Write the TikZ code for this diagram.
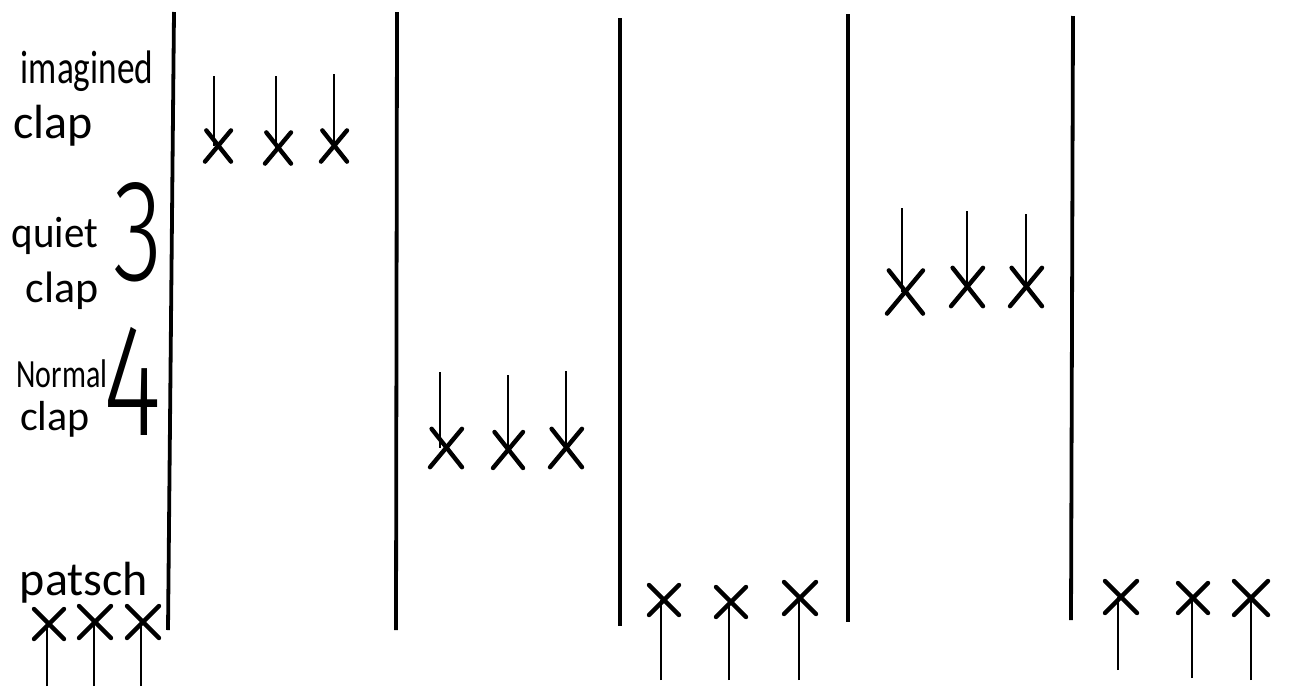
\documentclass[tikz,border=0pt]{standalone}
\usepackage{fontspec}
\setmainfont{Carlito}
\newfontfamily\thinfont[UprightFont=* Light]{Fira Sans}
\begin{document}
\begin{tikzpicture}[x=1pt,y=-1pt,
  bar/.style={line width=3.8pt,black},
  stem/.style={line width=1.8pt,black},
  crossm/.style={line width=4.4pt,black,line cap=round},
  lab/.style={inner sep=0pt,anchor=base},
  big/.style={inner sep=0pt,anchor=base}]
\useasboundingbox[fill=white] (0,0) rectangle (1293,686);
% bars
\foreach \n/\xa/\ya/\xb/\yb in {a/174/12/168/630,b/397/12/396/630,c/620/18/620/626,d/848/14/848/622,e/1073/16/1071/620}{
  \coordinate (\n1) at (\xa,\ya); \coordinate (\n2) at (\xb,\yb);
  \draw[bar] (\n1) -- (\n2);
}
% downward-stem crosses: stem x, stem top, cross centre x, y, half size
\foreach \x/\t/\cx/\y/\s in {214/76/218/146/13,276/76/278/148/13,334/74/334/146/13,
  902/208/905/292/18,967/211/967/287/16,1026/214/1026/287/16,
  440/372/446/448/16,508/375/508/450/15,566/371/566/448/16}{
  \coordinate (p) at (\x,\y); \coordinate (q) at (\x,\t);
  \draw[stem] (q) -- (p);
  \draw[crossm] (\cx-\s,\y+\s*1.2) -- (\cx+\s,\y-\s*1.2);
  \draw[crossm] (\cx-\s*.9,\y-\s*1.2) -- (\cx+\s,\y+\s*1.2);
}
% upward-stem crosses
\foreach \x/\b/\cx/\y/\s in {47/686/49/624/15,94/686/95/622/16,141/686/143/622/16,
  661/680/664/600/15,729/680/731/602/15,799/680/800/598/16,
  1118/670/1121/597/16,1192/678/1193/598/15,1251/680/1251/598/17}{
  \coordinate (p) at (\x,\y); \coordinate (q) at (\x,\b);
  \draw[stem] (q) -- (p);
  \draw[crossm] (\cx-\s,\y+\s) -- (\cx+\s,\y-\s);
  \draw[crossm] (\cx-\s,\y-\s) -- (\cx+\s,\y+\s);
}
% labels
\node[lab,xscale=.75,font=\fontsize{47}{47}\selectfont] (l1a) at (87,83) {imagined};
\node[lab,font=\fontsize{48}{48}\selectfont] (l1b) at (53,138) {clap};
\node[lab,xscale=.93,font=\fontsize{44}{44}\selectfont] (l2a) at (55,247) {quiet};
\node[lab,font=\fontsize{44}{44}\selectfont] (l2b) at (62,302) {clap};
\node[big,xscale=.7,font=\thinfont\fontsize{145}{145}\selectfont] (n3) at (138,280) {3};
\node[lab,xscale=.75,font=\fontsize{40}{40}\selectfont] (l3a) at (62,387) {Normal};
\node[lab,font=\fontsize{42}{42}\selectfont] (l3b) at (55,430) {clap};
\node[big,xscale=.7,font=\thinfont\fontsize{160}{160}\selectfont] (n4) at (133,435) {4};
\node[lab,font=\fontsize{48}{48}\selectfont] (l4) at (84,595) {patsch};
\end{tikzpicture}
\end{document}
